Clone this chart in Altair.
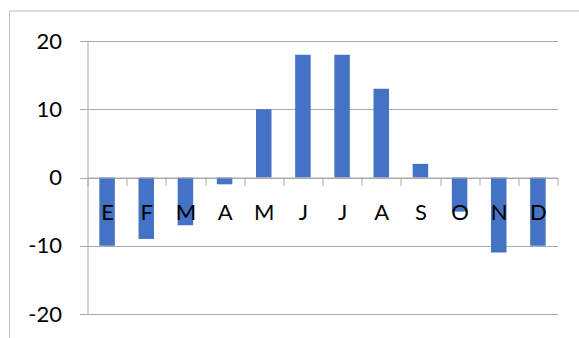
import altair as alt
import pandas as pd

# Monthly values (Spanish month names, shown by initial)
months = ["Enero", "Febrero", "Marzo", "Abril", "Mayo", "Junio",
          "Julio", "Agosto", "Septiembre", "Octubre", "Noviembre", "Diciembre"]
values = [-10, -9, -7, -1, 10, 18, 18, 13, 2, -5, -11, -10]
y_ticks = [-20, -10, 0, 10, 20]

df = pd.DataFrame({"mes": months, "valor": values})

FONT = "Lato"
GRID = "#A9A9A9"
BAR = "#4472C4"

W, H = 470, 273
PAD_L, PAD_T = 87.5, 41

base = alt.Chart(df)

bars = base.mark_bar(color=BAR, size=15.5).encode(
    x=alt.X(
        "mes:N",
        sort=None,
        scale=alt.Scale(paddingInner=0, paddingOuter=0),
        axis=alt.Axis(
            title=None,
            orient="bottom",
            offset=-136.5,
            zindex=1,
            grid=False,
            domainColor=GRID,
            tickColor=GRID,
            tickSize=8,
            tickBand="extent",
            labelExpr="slice(datum.label, 0, 1)",
            labelFont=FONT,
            labelFontSize=22,
            labelColor="#000000",
            labelAngle=0,
            labelPadding=17,
        ),
    ),
    y=alt.Y(
        "valor:Q",
        scale=alt.Scale(domain=[-20, 20], nice=False, zero=False),
        axis=alt.Axis(
            title=None,
            values=y_ticks,
            grid=True,
            gridColor=GRID,
            domainColor=GRID,
            tickColor=GRID,
            tickSize=8,
            labelExpr="'' + datum.value",
            labelFont=FONT,
            labelFontSize=22,
            labelColor="#000000",
            labelPadding=18,
        ),
    ),
)

# Outer chart-area frame
frame = alt.Chart(pd.DataFrame({"k": [0]})).mark_rect(
    filled=False, stroke="#BFBFBF", strokeWidth=1
).encode(
    x=alt.value(9.5 - PAD_L),
    x2=alt.value(W + 60),
    y=alt.value(11 - PAD_T),
    y2=alt.value(H + 60),
)

chart = alt.layer(frame, bars).properties(
    width=W,
    height=H,
    autosize=alt.AutoSizeParams(type="none"),
    padding={"left": PAD_L, "top": PAD_T, "right": 579 - PAD_L - W, "bottom": 338 - PAD_T - H},
    background="#FFFFFF",
).configure_view(stroke=None)

chart.save("out.html", embed_options={"renderer": "svg", "actions": False})
